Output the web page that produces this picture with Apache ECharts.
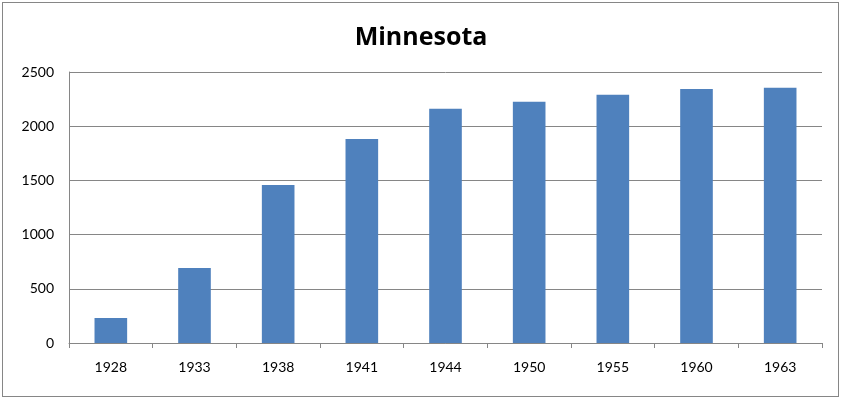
<!DOCTYPE html>
<html>
<head>
<meta charset="utf-8">
<script src="https://cdn.jsdelivr.net/npm/echarts@6/dist/echarts.min.js"></script>
<style>
html,body{margin:0;padding:0;background:#fff;}
#frame{position:absolute;left:2px;top:2px;width:835px;height:393px;border:1px solid #868686;}
#chart{position:absolute;left:0;top:0;width:842px;height:400px;}
</style>
</head>
<body>
<div id="frame"></div>
<div id="chart"></div>
<script>
const title = "Minnesota";
const categories = ["1928","1933","1938","1941","1944","1950","1955","1960","1963"];
const values = [231, 691, 1458, 1883, 2160, 2225, 2290, 2344, 2354];
const yTicks = [0, 500, 1000, 1500, 2000, 2500];

const chart = echarts.init(document.getElementById('chart'), null, {renderer:'canvas'});
chart.setOption({
  backgroundColor: 'transparent',
  animation: false,
  title: {
    text: title, left: 'center', top: 20,
    textStyle: {fontFamily: 'Open Sans', fontWeight: 'bold', fontSize: 25, color: '#000'}
  },
  grid: {left: 69, right: 20, top: 72, bottom: 57, containLabel: false},
  xAxis: {
    type: 'category', data: categories, boundaryGap: true,
    axisLine: {lineStyle: {color: '#868686', width: 1}},
    axisTick: {show: true, length: 5, alignWithLabel: false, lineStyle: {color: '#868686'}},
    axisLabel: {color: '#000', fontFamily: 'Lato', fontSize: 14, margin: 17}
  },
  yAxis: {
    type: 'value', min: yTicks[0], max: yTicks[yTicks.length-1], interval: 500,
    axisLine: {show: true, lineStyle: {color: '#868686', width: 1}},
    axisTick: {show: false},
    splitLine: {lineStyle: {color: '#868686', width: 1}},
    axisLabel: {color: '#000', fontFamily: 'Lato', fontSize: 14, margin: 15,
      formatter: function (v) { return String(v); }}
  },
  series: [{
    type: 'bar', data: values, barWidth: '39%',
    itemStyle: {color: '#4F81BD'}
  }]
});
</script>
</body>
</html>
